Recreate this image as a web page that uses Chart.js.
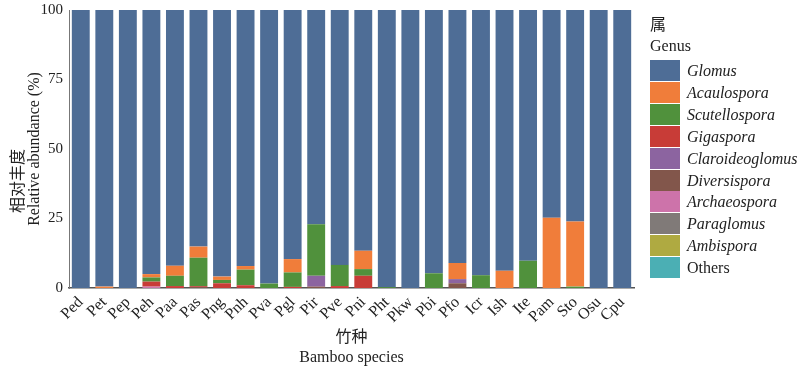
<!DOCTYPE html>
<html>
<head>
<meta charset="utf-8">
<script src="https://cdn.jsdelivr.net/npm/chart.js@4/dist/chart.umd.min.js"></script>
<style>
  body { margin: 0; background: #fff; }
  #wrap { position: relative; width: 800px; height: 369px; }
  #legend { position: absolute; left: 650px; top: 0; font-family: 'Liberation Serif', 'Noto Sans CJK SC', serif; color: #222; }
  #legend .t1 { position: absolute; left: 0; top: 15px; font-size: 16px; line-height: 20px; white-space: nowrap; }
  #legend .t2 { position: absolute; left: 0; top: 36px; font-size: 16px; line-height: 20px; white-space: nowrap; }
  #legend .item { position: absolute; left: 0; height: 21px; white-space: nowrap; }
  #legend .box { position: absolute; left: 0; top: 0; width: 30px; height: 21px; }
  #legend .lab { position: absolute; left: 37px; top: 0; line-height: 21px; font-size: 16px; }
</style>
</head>
<body>
<div id="wrap">
  <canvas id="chart" width="800" height="369"></canvas>
  <div id="legend"></div>
</div>
<script>
var species = ['Ped','Pet','Pep','Peh','Paa','Pas','Png','Pnh','Pva','Pgl','Pir','Pve','Pni','Pht','Pkw','Pbi','Pfo','Icr','Ish','Ite','Pam','Sto','Osu','Cpu'];
var genera = ['Glomus','Acaulospora','Scutellospora','Gigaspora','Claroideoglomus','Diversispora','Archaeospora','Paraglomus','Ambispora','Others'];
var generaColors = ['#4e6d96','#f07d3a','#50913c','#c83c37','#8c64a0','#82564b','#cd73aa','#807a78','#afaa41','#4bafb4'];
var yTicks = [0, 25, 50, 75, 100];

var glomus          = [100,99.5,100,95.0,92.0,85.1,95.9,92.1,98.4,89.6,77.1,91.7,86.6,99.7,100,94.7,91.0,95.4,93.8,90.2,74.7,76.1,100,100];
var acaulospora     = [0,0.5,0,1.2,3.6,4.0,1.2,1.3,0,4.8,0,0,6.6,0,0,0,5.8,0,6.2,0,25.3,23.4,0,0];
var scutellospora   = [0,0,0,1.5,3.7,10.2,1.2,5.6,1.6,5.2,18.5,7.6,2.4,0.3,0,5.3,0,4.6,0,9.8,0,0.5,0,0];
var gigaspora       = [0,0,0,1.8,0.7,0.3,1.7,1.0,0,0.4,0,0.7,4.4,0,0,0,0,0,0,0,0,0,0,0];
var claroideoglomus = [0,0,0,0,0,0,0,0,0,0,3.9,0,0,0,0,0,1.5,0,0,0,0,0,0,0];
var diversispora    = [0,0,0,0,0,0.4,0,0,0,0,0.5,0,0,0,0,0,1.7,0,0,0,0,0,0,0];
var archaeospora    = [0,0,0,0.5,0,0,0,0,0,0,0,0,0,0,0,0,0,0,0,0,0,0,0,0];
var paraglomus      = [0,0,0,0,0,0,0,0,0,0,0,0,0,0,0,0,0,0,0,0,0,0,0,0];
var ambispora       = [0,0,0,0,0,0,0,0,0,0,0,0,0,0,0,0,0,0,0,0,0,0,0,0];
var others          = [0,0,0,0,0,0,0,0,0,0,0,0,0,0,0,0,0,0,0,0,0,0,0,0];

var seriesData = [glomus, acaulospora, scutellospora, gigaspora, claroideoglomus, diversispora, archaeospora, paraglomus, ambispora, others];

var fontFamily = "'Liberation Serif', 'Noto Sans CJK SC', serif";
var textColor = '#222';

// stack bottom-up: last genus at the bottom, Glomus on top
var datasets = [];
for (var i = genera.length - 1; i >= 0; i--) {
	datasets.push({
		label: genera[i],
		data: seriesData[i],
		backgroundColor: generaColors[i],
		borderWidth: 0,
		barPercentage: 0.76,
		categoryPercentage: 1.0
	});
}

var myChart = new Chart(document.getElementById('chart'), {
	type: 'bar',
	data: {
		labels: species,
		datasets: datasets
	},
	options: {
		responsive: false,
		animation: false,
		layout: { padding: { top: 10, right: 166, left: 0, bottom: 0 } },
		plugins: {
			legend: { display: false },
			tooltip: { enabled: false }
		},
		scales: {
			x: {
				stacked: true,
				grid: { display: false, drawTicks: false },
				border: { display: true, color: '#555', width: 1.5 },
				ticks: {
					color: textColor,
					font: { family: fontFamily, size: 16 },
					minRotation: 45,
					maxRotation: 45,
					padding: 5,
					autoSkip: false
				},
				title: {
					display: true,
					text: ['竹种', 'Bamboo species'],
					color: textColor,
					font: { family: fontFamily, size: 16, lineHeight: 1.2 },
					padding: { top: 0, bottom: 2 }
				},
				afterFit: function(scale) {
					scale.height = 81;
					scale.paddingLeft = 0;
					scale.paddingRight = 0;
				}
			},
			y: {
				stacked: true,
				min: 0,
				max: 100,
				grid: { display: false, drawTicks: false },
				border: { display: true, color: '#777', width: 1 },
				afterBuildTicks: function(scale) {
					scale.ticks = yTicks.map(function(v) { return { value: v }; });
				},
				ticks: {
					color: textColor,
					font: { family: fontFamily, size: 15 },
					padding: 6
				},
				title: {
					display: true,
					text: ['相对丰度\u3000\u3000\u3000\u3000', 'Relative abundance (%)'],
					color: textColor,
					font: { family: fontFamily, size: 16, lineHeight: 1.05 },
					padding: { top: 10, bottom: 0 }
				},
				afterFit: function(scale) {
					scale.width = 69;
					scale.paddingTop = 0;
					scale.paddingBottom = 0;
				}
			}
		}
	}
});

// legend built from the same arrays
var legendDiv = document.getElementById('legend');
var html = '<div class="t1">属</div><div class="t2">Genus</div>';
for (var j = 0; j < genera.length; j++) {
	var itemTop = 60 + j * 21.9;
	var fontStyle = genera[j] === 'Others' ? 'normal' : 'italic';
	html += '<div class="item" style="top:' + itemTop + 'px">'
		+ '<div class="box" style="background:' + generaColors[j] + '"></div>'
		+ '<div class="lab" style="font-style:' + fontStyle + '">' + genera[j] + '</div>'
		+ '</div>';
}
legendDiv.innerHTML = html;
</script>
</body>
</html>
